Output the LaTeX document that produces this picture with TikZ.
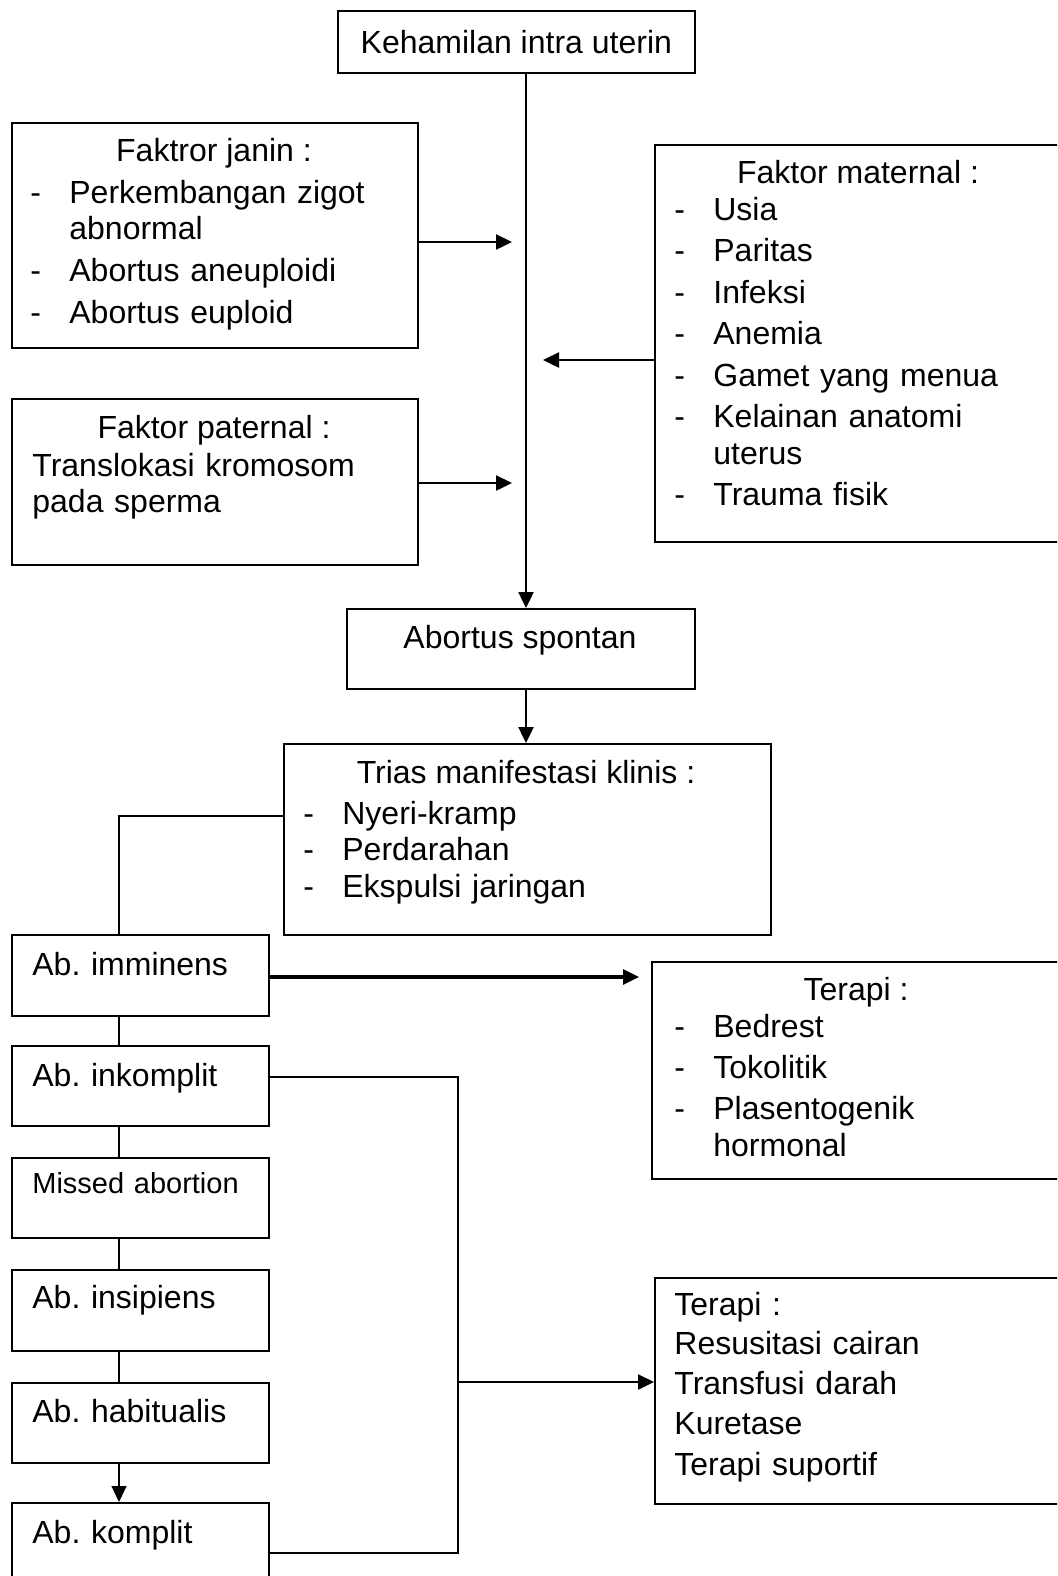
\documentclass[tikz,border=0pt]{standalone}
\usepackage{fontspec}
\setmainfont{Liberation Sans}
\usetikzlibrary{arrows.meta, calc}
\frenchspacing
\newcommand{\butir}[1]{\makebox[19.5pt][l]{-}#1}
\newcommand{\lanjut}[1]{\hspace*{19.5pt}#1}

\begin{document}
\begin{tikzpicture}[x=0.5pt, y=-0.5pt,
    kotak/.style={draw, line width=0.85pt, anchor=north west, inner sep=0pt},
    judul/.style={anchor=base, inner sep=0pt, font=\fontsize{16}{18.25}\selectfont},
    isi/.style={anchor=base west, inner sep=0pt, align=left, text width=190pt,
      font=\fontsize{16}{18.25}\selectfont},
    panah/.style={-{Triangle[length=8pt, width=7.5pt]}, line width=1.2pt},
    garis/.style={line width=0.6pt}]
    \useasboundingbox (0,0) rectangle (1057,1576);
    \clip (0,0) rectangle (1057,1576);
    % Kotak utama
    \node[kotak, minimum width=178.5pt, minimum height=31pt,
      font=\fontsize{16}{18.25}\selectfont] (hamil) at (337,10) {Kehamilan intra uterin};
    \node[kotak, minimum width=203pt, minimum height=112.5pt] (janin) at (11,122) {};
    \node[kotak, minimum width=203pt, minimum height=83pt] (paternal) at (11,398) {};
    \node[kotak, minimum width=204pt, minimum height=198.5pt] (maternal) at (654,144) {};
    \node[kotak, minimum width=174pt, minimum height=40pt] (spontan) at (346,608) {};
    \node[kotak, minimum width=243.5pt, minimum height=95.5pt] (trias) at (283,743) {};
    % Jenis abortus
    \node[kotak, minimum width=128.5pt, minimum height=40.5pt] (imminens) at (11,934) {};
    \node[kotak, minimum width=128.5pt, minimum height=40pt] (inkomplit) at (11,1045) {};
    \node[kotak, minimum width=128.5pt, minimum height=40pt] (missed) at (11,1157) {};
    \node[kotak, minimum width=128.5pt, minimum height=40.5pt] (insipiens) at (11,1269) {};
    \node[kotak, minimum width=128.5pt, minimum height=40pt] (habitualis) at (11,1382) {};
    \node[kotak, minimum width=128.5pt, minimum height=45pt] (komplit) at (11,1502) {};
    % Terapi
    \node[kotak, minimum width=205pt, minimum height=108.5pt] (terapiA) at (651,961) {};
    \node[kotak, minimum width=204pt, minimum height=113pt] (terapiB) at (654,1277) {};

    % Isi kotak
    \node[judul] (tjanin) at (214,161) {Faktror janin :};
    \node[isi] (ljanin) at (30,203) {\butir{Perkembangan zigot}\\
      \lanjut{abnormal}\\[2.7pt]
      \butir{Abortus aneuploidi}\\[2.7pt]
      \butir{Abortus euploid}};
    \node[judul] (tpaternal) at (214,438) {Faktor paternal :};
    \node[isi] (lpaternal) at (32,476) {Translokasi kromosom\\pada sperma};
    \node[judul] (tmaternal) at (858,183) {Faktor maternal :};
    \node[isi] (lmaternal) at (674,220) {\butir{Usia}\\[2.5pt]
      \butir{Paritas}\\[2.5pt]
      \butir{Infeksi}\\[2.5pt]
      \butir{Anemia}\\[2.5pt]
      \butir{Gamet yang menua}\\[2.5pt]
      \butir{Kelainan anatomi}\\
      \lanjut{uterus}\\[2.5pt]
      \butir{Trauma fisik}};
    \node[judul] (tspontan) at (520,648) {Abortus spontan};
    \node[judul] (ttrias) at (526,783) {Trias manifestasi klinis :};
    \node[isi] (ltrias) at (303,824) {\butir{Nyeri-kramp}\\
      \butir{Perdarahan}\\
      \butir{Ekspulsi jaringan}};
    \node[isi] (limminens) at (32,975) {Ab. imminens};
    \node[isi] (linkomplit) at (32,1086) {Ab. inkomplit};
    \node[isi, font=\fontsize{14.5}{16}\selectfont] (lmissed) at (32,1193) {Missed abortion};
    \node[isi] (linsipiens) at (32,1308) {Ab. insipiens};
    \node[isi] (lhabitualis) at (32,1422) {Ab. habitualis};
    \node[isi] (lkomplit) at (32,1543) {Ab. komplit};
    \node[judul] (tterapiA) at (856,1000) {Terapi :};
    \node[isi] (lterapiA) at (674,1037) {\butir{Bedrest}\\[2.3pt]
      \butir{Tokolitik}\\[2.5pt]
      \butir{Plasentogenik}\\
      \lanjut{hormonal}};
    \node[isi] (lterapiB) at (674,1315) {Terapi :\\[1.5pt]
      Resusitasi cairan\\[1.8pt]
      Transfusi darah\\[1.8pt]
      Kuretase\\[2.2pt]
      Terapi suportif};

    % Garis poros tengah
    \coordinate (poros) at (526,0);
    \draw[panah] (hamil.south -| poros) -- (spontan.north -| poros);
    \draw[panah] (spontan.south -| poros) -- (trias.north -| poros);
    % Faktor-faktor menuju poros
    \coordinate (ujungjanin) at (512,242);
    \coordinate (ujungpaternal) at (512,483);
    \coordinate (ujungmaternal) at (543,360);
    \draw[panah] (ujungjanin -| janin.east) -- (ujungjanin);
    \draw[panah] (ujungpaternal -| paternal.east) -- (ujungpaternal);
    \draw[panah] (ujungmaternal -| maternal.west) -- (ujungmaternal);
    % Rantai jenis abortus
    \coordinate (cabang) at (119,816);
    \draw[garis] (cabang -| trias.west) -- (cabang) -- (cabang |- imminens.north);
    \draw[garis] (imminens.south -| cabang) -- (inkomplit.north -| cabang);
    \draw[garis] (inkomplit.south -| cabang) -- (missed.north -| cabang);
    \draw[garis] (missed.south -| cabang) -- (insipiens.north -| cabang);
    \draw[garis] (insipiens.south -| cabang) -- (habitualis.north -| cabang);
    \draw[panah, line width=0.6pt] (habitualis.south -| cabang) -- (komplit.north -| cabang);
    % Menuju terapi
    \coordinate (ujungA) at (639,977);
    \draw[panah, line width=1.6pt] (ujungA -| imminens.east) -- (ujungA);
    \coordinate (relA) at (458,1077);
    \coordinate (relB) at (458,1553);
    \coordinate (relC) at (458,1382);
    \draw[line width=0.85pt] (relA -| inkomplit.east) -- (relA) -- (relB) -- (relB -| komplit.east);
    \draw[panah] (relC) -- (relC -| terapiB.west);
\end{tikzpicture}
\end{document}
